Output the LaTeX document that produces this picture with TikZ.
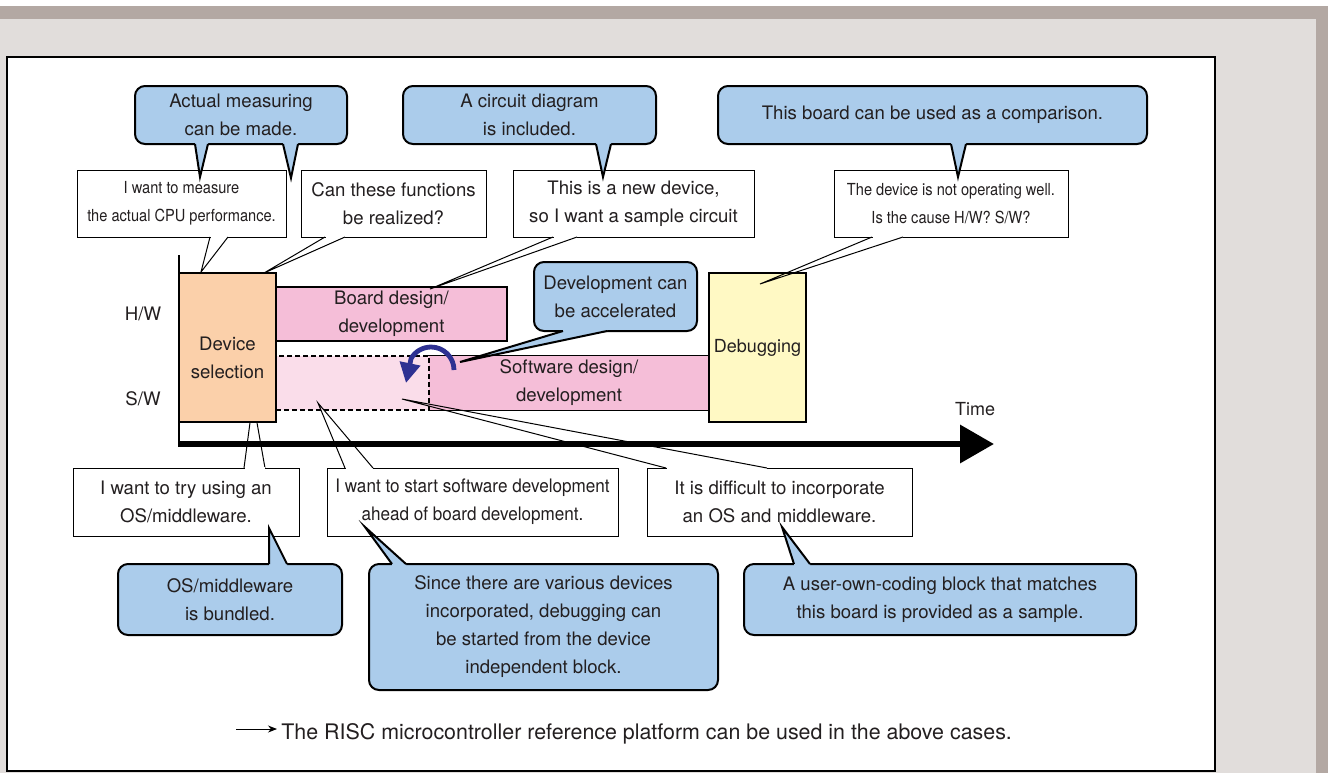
\documentclass[tikz,border=0pt]{standalone}
\usepackage{fontspec}
\setmainfont{TeX Gyre Heros}
\newfontfamily\narrowfont{TeX Gyre Heros}[FakeStretch=0.88]
\newfontfamily\semifont{TeX Gyre Heros}[FakeStretch=0.92]
\usetikzlibrary{arrows.meta}
\definecolor{PanelClr}{RGB}{225,221,219}
\definecolor{BandClr}{RGB}{179,168,163}
\definecolor{NoteClr}{RGB}{171,204,235}
\definecolor{DevClr}{RGB}{251,208,170}
\definecolor{TaskClr}{RGB}{245,190,216}
\definecolor{AheadClr}{RGB}{250,221,234}
\definecolor{DebugClr}{RGB}{255,249,196}
\definecolor{TurnClr}{RGB}{46,49,146}
\definecolor{TextClr}{RGB}{35,31,32}

\begin{document}
\begin{tikzpicture}[x=0.5pt,y=-0.5pt,
  every node/.style={inner sep=0pt,align=center,text=TextClr,font=\fontsize{9.3pt}{14pt}\selectfont},
  note/.style={draw=black,line width=1pt,fill=NoteClr,rounded corners=5pt},
  notetail/.style={fill=NoteClr},
  noteedge/.style={line width=1pt},
  wish/.style={draw=black,line width=0.5pt,fill=white},
  wishedge/.style={line width=0.5pt},
  task/.style={draw=black,line width=0.7pt},
  narrow/.style={font=\narrowfont\fontsize{8.3pt}{14pt}\selectfont},
  semi/.style={font=\semifont\fontsize{9.3pt}{14pt}\selectfont}]
\useasboundingbox (0,0) rectangle (1328,773);

\fill[white] (0,0) rectangle (1328,773);
\fill[PanelClr] (0,19) rectangle (1316,773);
\fill[BandClr] (0,6) rectangle (1328,19);
\fill[BandClr] (1316,6) rectangle (1328,773);
\draw[line width=0.6pt,fill=white] (7,57) rectangle (1215,771);

\coordinate (osuseTip) at (253,400);
\draw[wishedge] (244,468) -- (osuseTip) -- (265,468);

\node[task,fill=TaskClr,draw=none,minimum width=140pt,minimum height=27pt] (soft) at (569,383) {Software design/\\development};
\draw[task] (soft.north west) -- (soft.north east) (soft.south west) -- (soft.south east);
\node[task,fill=AheadClr,dash pattern=on 2.5pt off 1.5pt,minimum width=76.5pt,minimum height=27pt] (ahead) at (352.5,383) {};
\node[task,fill=TaskClr,minimum width=115.5pt,minimum height=27pt] (board) at (391.5,314) {Board design/\\development};
\node[task,fill=DevClr,minimum width=48.5pt,minimum height=74.5pt] (dev) at (227.5,347.5) {};
\node (devtxt) at (227.5,358) {Device\\selection};
\node[task,fill=DebugClr,minimum width=48.5pt,minimum height=74.5pt,font=\fontsize{9pt}{14pt}\selectfont] (debug) at (757.5,347.5) {Debugging};

\node (hw) at (143,314) {H/W};
\node (sw) at (143,399) {S/W};
\node[font=\fontsize{9pt}{14pt}\selectfont] (time) at (975,409) {Time};

\node[wish,narrow,minimum width=104.5pt,minimum height=33.5pt] (cpu) at (181.5,203.5) {I want to measure\\the actual CPU performance.};
\node[wish,minimum width=92.5pt,minimum height=33.5pt] (func) at (393.5,203.5) {Can these functions\\be realized?};
\node[wish,minimum width=120.5pt,minimum height=33.5pt] (newdev) at (633.5,203.5) {This is a new device,\\so I want a sample circuit};
\node[wish,narrow,minimum width=117pt,minimum height=33.5pt] (fault) at (951,203.5) {The device is not operating well.\\Is the cause H/W? S/W?};
\node[wish,minimum width=113pt,minimum height=34pt] (osuse) at (186,502) {I want to try using an\\OS/middleware.};
\node[wish,semi,minimum width=145.5pt,minimum height=34pt] (early) at (472.5,502) {I want to start software development\\ahead of board development.};
\node[wish,minimum width=132.5pt,minimum height=34pt] (hard) at (779.5,502) {It is difficult to incorporate\\an OS and middleware.};

\coordinate (cpuTip) at (201,272);
\coordinate (funcTip) at (264,273);
\coordinate (newdevTip) at (430,289);
\coordinate (faultTip) at (760,284);
\coordinate (earlyTip) at (318,403);
\coordinate (hardTip) at (402,399);
\fill[white] (210.5,236) rectangle (227.5,238);
\draw[wishedge] (210,237) -- (cpuTip) -- (228,237);
\fill[white] (325.5,236) rectangle (344.5,238);
\draw[wishedge] (325,237) -- (funcTip) -- (345,237);
\fill[white] (553.5,236) rectangle (576.5,238);
\draw[wishedge] (553,237) -- (newdevTip) -- (577,237);
\fill[white] (872.5,236) rectangle (902.5,238);
\draw[wishedge] (872,237) -- (faultTip) -- (903,237);
\fill[white] (244.5,467) rectangle (264.5,469);
\fill[white] (345.5,467) rectangle (372.5,469);
\draw[wishedge] (345,468) -- (earlyTip) -- (373,468);
\fill[white] (666.5,467) rectangle (766.5,469);
\draw[wishedge] (666,468) -- (hardTip) -- (767,468);

\node[note,minimum width=106pt,minimum height=29pt] (meas) at (241,115) {Actual measuring\\can be made.};
\node[note,minimum width=126.5pt,minimum height=29pt] (circ) at (529.5,115) {A circuit diagram\\is included.};
\node[note,minimum width=214.5pt,minimum height=29pt] (comp) at (932.5,115) {This board can be used as a comparison.};
\node[note,minimum width=81.5pt,minimum height=34.5pt] (fast) at (615.5,296.5) {Development can\\be accelerated};
\node[note,minimum width=112pt,minimum height=35.5pt] (bundle) at (230,599.5) {OS/middleware\\is bundled.};
\node[note,minimum width=174.5pt,minimum height=63pt] (indep) at (543.5,627) {Since there are various devices\\incorporated, debugging can\\be started from the device\\independent block.};
\node[note,minimum width=196pt,minimum height=35.5pt] (sample) at (940,599.5) {A user-own-coding block that matches\\this board is provided as a sample.};

\coordinate (measTipA) at (200,177);
\coordinate (measTipB) at (291,178);
\coordinate (circTip) at (603,177);
\coordinate (compTip) at (958,177);
\coordinate (fastTip) at (460,362);
\coordinate (bundleTip) at (269,528);
\coordinate (indepTip) at (365,527);
\coordinate (sampleTip) at (782,527);
\fill[notetail] (195,142) -- (195,144) -- (measTipA) -- (208,144) -- (208,142) -- cycle;
\draw[noteedge] (195,144) -- (measTipA) -- (208,144);
\fill[notetail] (283,142) -- (283,144) -- (measTipB) -- (298,144) -- (298,142) -- cycle;
\draw[noteedge] (283,144) -- (measTipB) -- (298,144);
\fill[notetail] (596,142) -- (596,144) -- (circTip) -- (611,144) -- (611,142) -- cycle;
\draw[noteedge] (596,144) -- (circTip) -- (611,144);
\fill[notetail] (951,142) -- (951,144) -- (compTip) -- (966,144) -- (966,142) -- cycle;
\draw[noteedge] (951,144) -- (compTip) -- (966,144);
\fill[notetail] (269,566) -- (269,564) -- (bundleTip) -- (287,564) -- (287,566) -- cycle;
\draw[noteedge] (269,564) -- (bundleTip) -- (287,564);
\fill[notetail] (392,566) -- (392,564) -- (indepTip) -- (406,564) -- (406,566) -- cycle;
\draw[noteedge] (392,564) -- (indepTip) -- (406,564);
\fill[notetail] (794,566) -- (794,564) -- (sampleTip) -- (810,564) -- (810,566) -- cycle;
\draw[noteedge] (794,564) -- (sampleTip) -- (810,564);

\coordinate (ytop) at (179,255);
\coordinate (org) at (178.5,444);
\coordinate (tend) at (994,444);
\draw[line width=1pt] (ytop) -- (179,447);
\draw[line width=3.3pt,-{Triangle[length=17pt,width=18.5pt]}] (org) -- (tend);

\draw[TurnClr,line width=2.4pt,-{Triangle[length=10pt,width=10pt]}] (454,370) arc[start angle=0,end angle=-150,radius=23] -- (406,383);
\fill[notetail] (563,329) -- (563,331) -- (fastTip) -- (607,331) -- (607,329) -- cycle;
\draw[noteedge] (563,331) -- (fastTip) -- (607,331);

\coordinate (pointer) at (236,729);
\node[anchor=base west,font=\fontsize{10.7pt}{13pt}\selectfont] (risc) at (281,739) {The RISC microcontroller reference platform can be used in the above cases.};
\draw[line width=0.5pt,-{Stealth[length=4.5pt,width=3.5pt]}] (pointer) -- (277,729);
\end{tikzpicture}
\end{document}
